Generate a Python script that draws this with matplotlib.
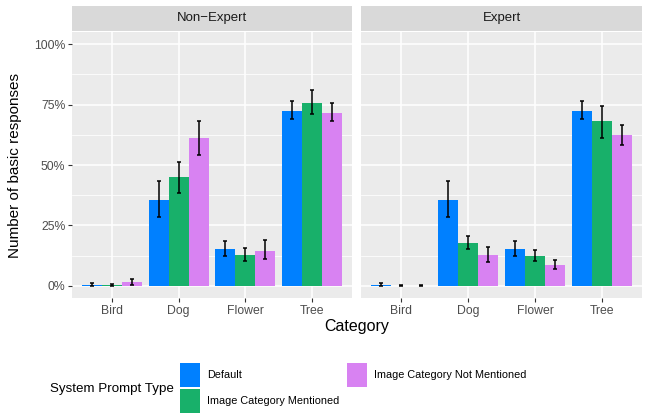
import numpy as np
import matplotlib.pyplot as plt
from matplotlib.patches import Patch

plt.rcParams['font.family'] = ['Liberation Sans', 'DejaVu Sans']

# données (en %)
categories = ['Bird', 'Dog', 'Flower', 'Tree']
panels = ['Non\u2212Expert', 'Expert']
prompt_types = ['Default', 'Image Category Mentioned', 'Image Category Not Mentioned']
colors = ['#0080FF', '#18B06A', '#D882F2']

# Non-Expert
ne_default = [0.5, 35.6, 15.3, 72.5]
ne_default_lo = [0.0, 28.3, 12.4, 69.2]
ne_default_hi = [1.2, 43.5, 18.6, 76.4]
ne_mentioned = [0.4, 45.2, 12.8, 75.8]
ne_mentioned_lo = [0.0, 38.3, 10.5, 71.0]
ne_mentioned_hi = [0.9, 51.4, 15.5, 80.9]
ne_not_mentioned = [1.7, 61.3, 14.5, 71.7]
ne_not_mentioned_lo = [0.3, 54.1, 11.0, 68.4]
ne_not_mentioned_hi = [3.0, 68.1, 19.1, 75.6]

# Expert
ex_default = [0.5, 35.6, 15.3, 72.5]
ex_default_lo = [0.0, 28.3, 12.4, 69.2]
ex_default_hi = [1.4, 43.5, 18.6, 76.4]
ex_mentioned = [0.1, 17.8, 12.4, 68.4]
ex_mentioned_lo = [0.0, 15.3, 10.4, 61.0]
ex_mentioned_hi = [0.2, 20.6, 14.8, 74.4]
ex_not_mentioned = [0.1, 12.8, 8.7, 62.6]
ex_not_mentioned_lo = [0.0, 9.8, 6.9, 58.1]
ex_not_mentioned_hi = [0.2, 15.9, 10.6, 66.6]

data = {
    panels[0]: [(ne_default, ne_default_lo, ne_default_hi),
                (ne_mentioned, ne_mentioned_lo, ne_mentioned_hi),
                (ne_not_mentioned, ne_not_mentioned_lo, ne_not_mentioned_hi)],
    panels[1]: [(ex_default, ex_default_lo, ex_default_hi),
                (ex_mentioned, ex_mentioned_lo, ex_mentioned_hi),
                (ex_not_mentioned, ex_not_mentioned_lo, ex_not_mentioned_hi)],
}

W, H = 651, 413
fig = plt.figure(figsize=(W / 100, H / 100), dpi=100)


def box(x0, y0, x1, y1):
    return [x0 / W, 1 - y1 / H, (x1 - x0) / W, (y1 - y0) / H]


panel_boxes = [(72, 32, 352, 298), (361, 32, 642, 298)]
x = np.arange(1, len(categories) + 1)
width = 0.3

for i, name in enumerate(panels):
    x0, y0, x1, y1 = panel_boxes[i]
    ax = fig.add_axes(box(x0, y0, x1, y1))
    ax.set_facecolor('#EBEBEB')
    ax.set_axisbelow(True)
    for k, (mean, lo, hi) in enumerate(data[name]):
        mean = np.array(mean)
        pos = x + (k - 1) * width
        ax.bar(pos, mean, width=width, color=colors[k], zorder=2)
        ax.errorbar(pos, mean, yerr=[mean - np.array(lo), np.array(hi) - mean],
                    fmt='none', ecolor='black', elinewidth=1.1, capsize=1.6,
                    capthick=1.1, zorder=3)
    ax.set_xlim(0.4, 4.6)
    ax.set_ylim(-5, 105)
    ax.set_xticks(x)
    ax.set_xticklabels(categories)
    ax.set_yticks([0, 25, 50, 75, 100])
    ax.set_yticks([12.5, 37.5, 62.5, 87.5], minor=True)
    ax.set_yticklabels(['0%', '25%', '50%', '75%', '100%'])
    ax.grid(which='major', color='white', linewidth=1.1)
    ax.grid(which='minor', axis='y', color='white', linewidth=0.55)
    ax.tick_params(which='major', length=2.75, width=0.8, color='#333333',
                   labelsize=8.8, labelcolor='#4D4D4D', pad=2)
    ax.tick_params(which='minor', length=0)
    for s in ax.spines.values():
        s.set_visible(False)
    if i == 1:
        ax.tick_params(axis='y', left=False, labelleft=False)

    # bandeau du facet
    sax = fig.add_axes(box(x0, 6, x1, 31))
    sax.set_facecolor('#D9D9D9')
    sax.set_xticks([])
    sax.set_yticks([])
    for s in sax.spines.values():
        s.set_visible(False)
    sax.text(0.5, 0.5, name, ha='center', va='center', fontsize=9.5,
             color='#1A1A1A', transform=sax.transAxes)

fig.text(357 / W, 1 - 327 / H, 'Category', ha='center', va='center', fontsize=11.5)
fig.text(15 / W, 1 - 165 / H, 'Number of basic responses', ha='center', va='center',
         rotation=90, fontsize=11)

# légende
handles = [Patch(facecolor=c, edgecolor='none') for c in colors]
fig.legend(handles, prompt_types, ncol=2, loc='upper left',
           bbox_to_anchor=(180 / W, 1 - 363 / H), frameon=False,
           fontsize=7.8, handlelength=1.85, handleheight=3.0,
           handletextpad=0.65, labelspacing=0.18, columnspacing=0.74,
           borderpad=0, borderaxespad=0)
fig.text(50 / W, 1 - 389 / H, 'System Prompt Type', va='center', fontsize=9.6)

fig.savefig('out.png', dpi=100)
